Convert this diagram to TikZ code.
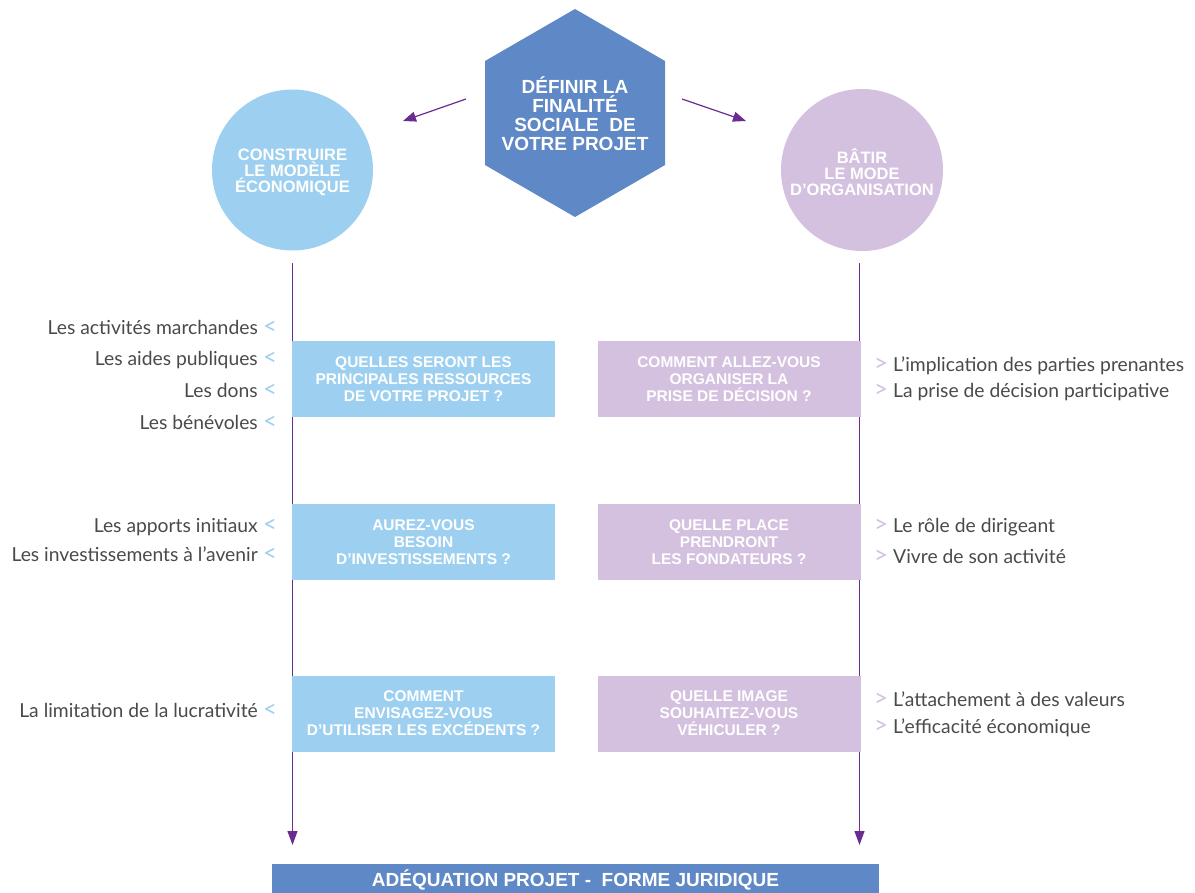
\documentclass[tikz,border=0pt]{standalone}
\usepackage{fontspec}
\setmainfont{Liberation Sans}
\newfontfamily\handfont{Lato}
\usetikzlibrary{arrows.meta}
\definecolor{hexblue}{HTML}{5E88C6}
\definecolor{lightblue}{HTML}{9DD0F0}
\definecolor{lavender}{HTML}{D4C1DF}
\definecolor{arrowpurple}{HTML}{6A2C90}
\definecolor{handgrey}{HTML}{4A4A4A}
\begin{document}
\begin{tikzpicture}[x=1pt,y=-1pt,
  qbox/.style={minimum width=263pt,minimum height=76pt,inner sep=0pt,text=white,
    font=\bfseries\fontsize{15.5}{17}\selectfont,align=center},
  lqbox/.style={qbox,fill=lightblue},
  rqbox/.style={qbox,fill=lavender},
  circtext/.style={text=white,font=\bfseries\fontsize{16.5}{16}\selectfont,align=center},
  hand/.style={text=handgrey,font=\handfont\fontsize{19.3}{19}\selectfont,inner sep=0pt},
  lmark/.style={text=lightblue,font=\handfont\fontsize{24}{24}\selectfont,inner sep=0pt,anchor=base},
  rmark/.style={text=lavender,font=\handfont\fontsize{24}{24}\selectfont,inner sep=0pt,anchor=base},
  flow/.style={draw=arrowpurple,line width=1.2pt,-{Triangle[length=13pt,width=10pt]}},
  vflow/.style={draw=arrowpurple,line width=1.2pt,-{Triangle[length=14pt,width=10pt]}}
]
\useasboundingbox (0,0) rectangle (1195,893);
\fill[white] (0,0) rectangle (1195,893);

% hexagon
\fill[hexblue] (575,9) -- (665,61) -- (665,165) -- (575,217) -- (485,165) -- (485,61) -- cycle;
\node[text=white,font=\bfseries\fontsize{19}{19}\selectfont,align=center] (hex) at (575,114)
  {DÉFINIR LA\\FINALITÉ\\SOCIALE\ \ DE\\VOTRE PROJET};

% circles
\node[circle,fill=lightblue,minimum size=161pt,inner sep=0pt] (lcirc) at (292.5,170) {};
\node[circtext] (ltext) at (292.5,172) {CONSTRUIRE\\LE MODÈLE\\ÉCONOMIQUE};
\node[circle,fill=lavender,minimum size=162pt,inner sep=0pt] (rcirc) at (862,170) {};
\node[circtext] (rtext) at (862,172) {BÂTIR\\LE MODE\\D’ORGANISATION};

% top arrows
\coordinate (la0) at (466,99);
\coordinate (la1) at (403,121);
\coordinate (ra0) at (682,99);
\coordinate (ra1) at (746,121);
\draw[flow] (la0) -- (la1);
\draw[flow] (ra0) -- (ra1);

% vertical lines
\coordinate (lv0) at (292.5,263);
\coordinate (lv1) at (292.5,845);
\coordinate (rv0) at (859.5,263);
\coordinate (rv1) at (859.5,845);
\draw[vflow] (lv0) -- (lv1);
\draw[vflow] (rv0) -- (rv1);

% question boxes
\node[lqbox] (lq1) at (423.5,379) {QUELLES SERONT LES\\PRINCIPALES RESSOURCES\\DE VOTRE PROJET ?};
\node[lqbox] (lq2) at (423.5,542) {AUREZ-VOUS\\BESOIN\\D’INVESTISSEMENTS ?};
\node[lqbox] (lq3) at (423.5,713.5) {COMMENT\\ENVISAGEZ-VOUS\\D’UTILISER LES EXCÉDENTS ?};
\node[rqbox] (rq1) at (729,379) {COMMENT ALLEZ-VOUS\\ORGANISER LA\\PRISE DE DÉCISION ?};
\node[rqbox] (rq2) at (729,542) {QUELLE PLACE\\PRENDRONT\\LES FONDATEURS ?};
\node[rqbox] (rq3) at (729,713.5) {QUELLE IMAGE\\SOUHAITEZ-VOUS\\VÉHICULER ?};

% left handwritten items
\node[hand,anchor=base east] (l1) at (258,335) {Les activités marchandes};
\node[hand,anchor=base east] (l2) at (258,366) {Les aides publiques};
\node[hand,anchor=base east] (l3) at (258,398) {Les dons};
\node[hand,anchor=base east] (l4) at (258,429) {Les bénévoles};
\node[hand,anchor=base east] (l5) at (258,532) {Les apports initiaux};
\node[hand,anchor=base east] (l6) at (258,561) {Les investissements à l’avenir};
\node[hand,anchor=base east] (l7) at (258,717) {La limitation de la lucrativité};
\foreach \y/\n in {335/1,366/2,398/3,429/4,532/5,561/6,717/7}
  \node[lmark] (lm\n) at (270,\y) {<};

% right handwritten items
\node[hand,anchor=base west] (r1) at (893,372) {L’implication des parties prenantes};
\node[hand,anchor=base west] (r2) at (893,398) {La prise de décision participative};
\node[hand,anchor=base west] (r3) at (893,532) {Le rôle de dirigeant};
\node[hand,anchor=base west] (r4) at (893,563) {Vivre de son activité};
\node[hand,anchor=base west] (r5) at (893,706) {L’attachement à des valeurs};
\node[hand,anchor=base west] (r6) at (893,733) {L’efficacité économique};
\foreach \y/\n in {372/1,398/2,532/3,563/4,706/5,733/6}
  \node[rmark] (rm\n) at (881,\y) {>};

% bottom bar
\fill[hexblue] (272,864) rectangle (879,893);
\node[text=white,font=\bfseries\fontsize{19}{19}\selectfont] (bar) at (575.5,880)
  {ADÉQUATION PROJET -\ \ FORME JURIDIQUE};
\end{tikzpicture}
\end{document}
